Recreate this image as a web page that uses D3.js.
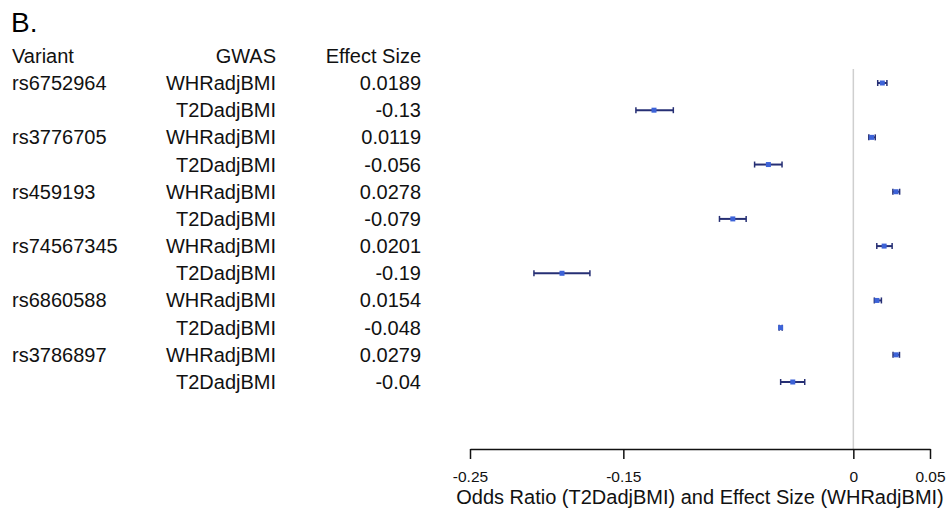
<!DOCTYPE html>
<html>
<head>
<meta charset="utf-8">
<script src="https://d3js.org/d3.v7.min.js"></script>
<style>
  body { margin: 0; background: #fff; }
  svg { font-family: "Liberation Sans", Arial, sans-serif; }
</style>
</head>
<body>
<svg id="chart" width="949" height="511"></svg>
<script>
// values
var variants = ["rs6752964", "rs3776705", "rs459193", "rs74567345", "rs6860588", "rs3786897"];
var gwas = ["WHRadjBMI", "T2DadjBMI"];
var effectLabels = ["0.0189", "-0.13", "0.0119", "-0.056", "0.0278", "-0.079",
                    "0.0201", "-0.19", "0.0154", "-0.048", "0.0279", "-0.04"];
var estimates = [0.0189, -0.13, 0.0119, -0.0554, 0.0278, -0.0786,
                 0.0201, -0.19, 0.0154, -0.0474, 0.0279, -0.0395];
var lower = [0.0159, -0.1418, 0.0101, -0.0644, 0.0258, -0.0873,
             0.0153, -0.2083, 0.0137, -0.0484, 0.0259, -0.0474];
var upper = [0.0219, -0.1174, 0.0143, -0.0465, 0.0302, -0.0699,
             0.0253, -0.1718, 0.0183, -0.0464, 0.0301, -0.0317];
var tickValues = [-0.25, -0.15, 0, 0.05];
var tickLabels = ["-0.25", "-0.15", "0", "0.05"];

var rows = estimates.map(function(d, i) {
  return {
    variant: i % 2 === 0 ? variants[i / 2] : "",
    gwas: gwas[i % 2],
    label: effectLabels[i],
    est: d, lo: lower[i], hi: upper[i]
  };
});

var svg = d3.select("#chart");

var x = d3.scaleLinear().domain([-0.25, 0.05]).range([470, 930]);
var y = d3.scaleLinear().domain([0, rows.length - 1]).range([83, 382]);
var rowStep = y(1) - y(0);

svg.append("text").attr("x", 11).attr("y", 32)
  .style("font-size", "28px").text("B.");

// header
var header = svg.append("g").style("font-size", "20px").attr("fill", "#111");
header.append("text").attr("x", 12).attr("y", y(0) - rowStep + 7).text("Variant");
header.append("text").attr("x", 276).attr("y", y(0) - rowStep + 7)
  .attr("text-anchor", "end").text("GWAS");
header.append("text").attr("x", 421).attr("y", y(0) - rowStep + 7)
  .attr("text-anchor", "end").text("Effect Size");

// table columns
var table = svg.append("g").style("font-size", "20px").attr("fill", "#111");
var tr = table.selectAll("g.row").data(rows).enter().append("g")
  .attr("class", "row")
  .attr("transform", function(d, i) { return "translate(0," + (y(i) + 7) + ")"; });
tr.append("text").attr("x", 12).text(function(d) { return d.variant; });
tr.append("text").attr("x", 276).attr("text-anchor", "end").text(function(d) { return d.gwas; });
tr.append("text").attr("x", 421).attr("text-anchor", "end").text(function(d) { return d.label; });

// zero reference line
svg.append("line")
  .attr("x1", x(0)).attr("x2", x(0))
  .attr("y1", 69).attr("y2", 449)
  .attr("stroke", "#cfcfcf").attr("stroke-width", 1.5);

// confidence intervals
var ci = svg.append("g").attr("stroke", "#262f74").attr("stroke-width", 2);
ci.selectAll("line.ci").data(rows).enter().append("line")
  .attr("x1", function(d) { return x(d.lo); })
  .attr("x2", function(d) { return x(d.hi); })
  .attr("y1", function(d, i) { return y(i); })
  .attr("y2", function(d, i) { return y(i); });
ci.selectAll("line.capl").data(rows).enter().append("line")
  .attr("stroke-width", 1.5)
  .attr("x1", function(d) { return x(d.lo); })
  .attr("x2", function(d) { return x(d.lo); })
  .attr("y1", function(d, i) { return y(i) - 3; })
  .attr("y2", function(d, i) { return y(i) + 3; });
ci.selectAll("line.caph").data(rows).enter().append("line")
  .attr("stroke-width", 1.5)
  .attr("x1", function(d) { return x(d.hi); })
  .attr("x2", function(d) { return x(d.hi); })
  .attr("y1", function(d, i) { return y(i) - 3; })
  .attr("y2", function(d, i) { return y(i) + 3; });

// point estimates
svg.selectAll("rect.pt").data(rows).enter().append("rect")
  .attr("class", "pt")
  .attr("x", function(d) { return x(d.est) - 2.5; })
  .attr("y", function(d, i) { return y(i) - 2.5; })
  .attr("width", 5).attr("height", 5)
  .attr("fill", "#3d63d8");

// x axis
var xAxis = d3.axisBottom(x)
  .tickValues(tickValues)
  .tickSize(10)
  .tickSizeOuter(0)
  .tickFormat(function(d, i) { return tickLabels[i]; });

var gx = svg.append("g").attr("transform", "translate(0,449)").call(xAxis);
gx.select(".domain").attr("stroke", "#111").attr("stroke-width", 1.5);
gx.selectAll(".tick line").attr("stroke", "#111").attr("stroke-width", 1.5);
gx.selectAll(".tick text")
  .attr("y", 33).attr("dy", null)
  .style("font-size", "15.5px")
  .style("font-family", "'Liberation Sans', Arial, sans-serif")
  .attr("fill", "#111");

svg.append("text")
  .attr("x", 700).attr("y", 504)
  .attr("text-anchor", "middle")
  .style("font-size", "20px").attr("fill", "#111")
  .text("Odds Ratio (T2DadjBMI) and Effect Size (WHRadjBMI)");
</script>
</body>
</html>
